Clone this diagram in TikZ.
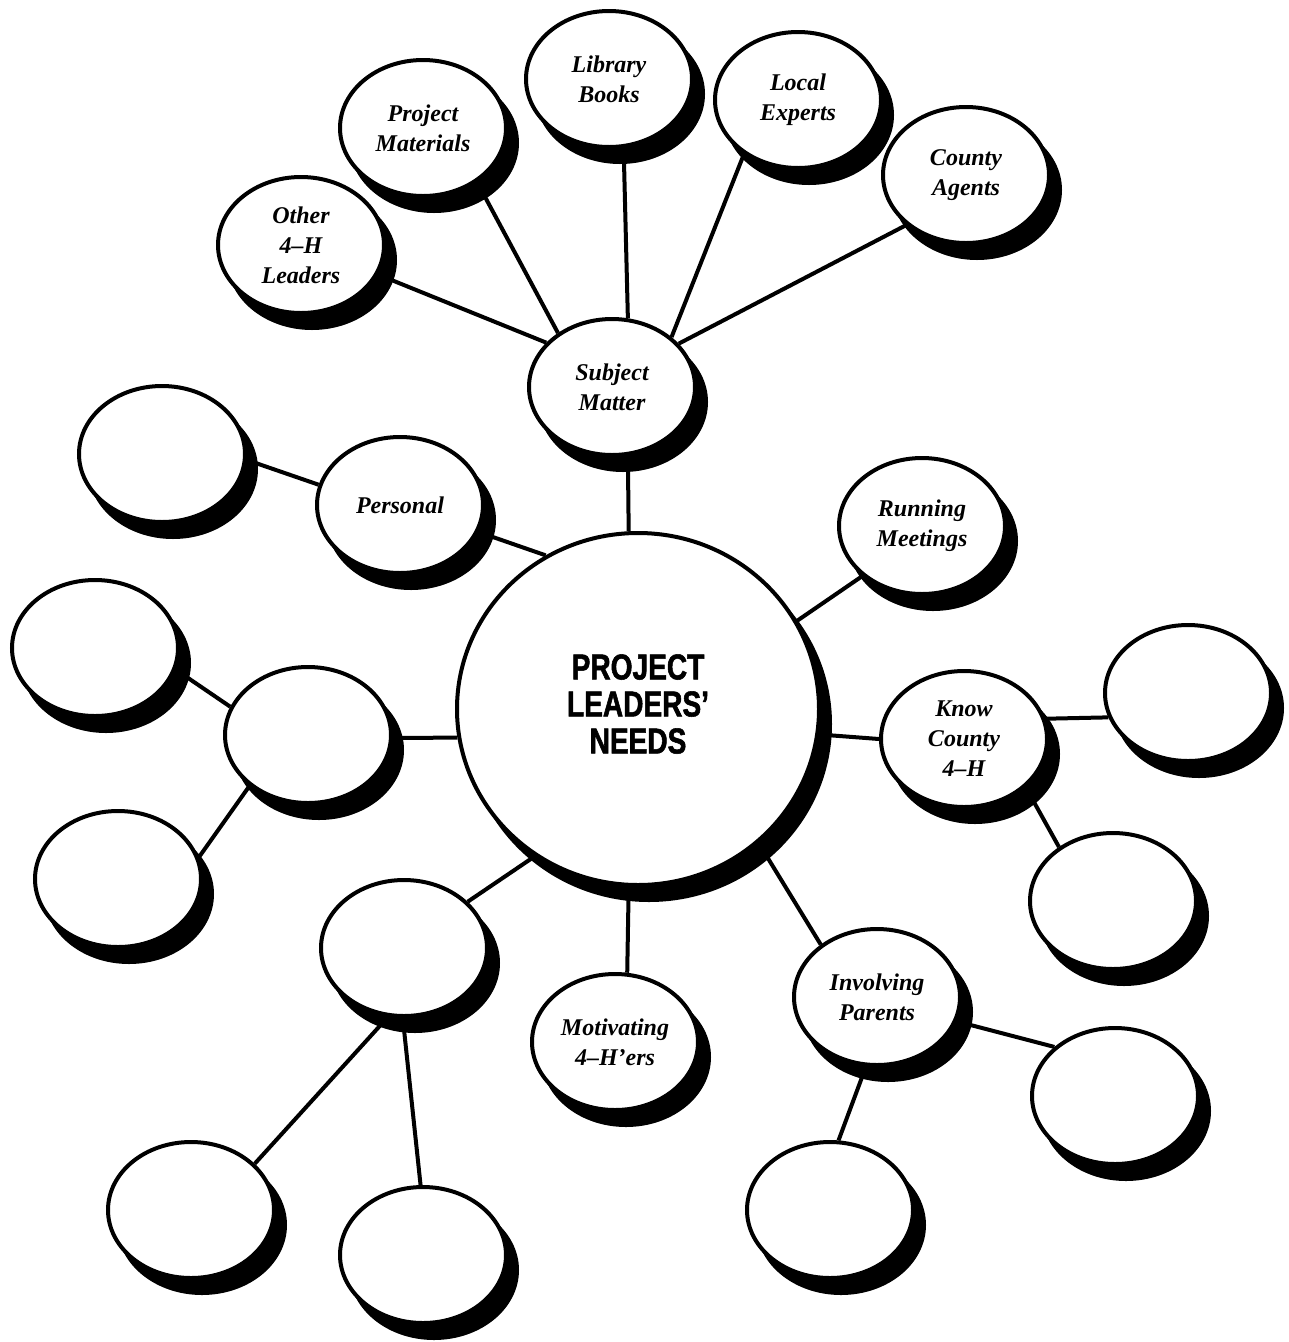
\documentclass[tikz,border=0pt]{standalone}
\usepackage{fontspec}
\newfontfamily\lblfont[Ligatures=TeX]{Liberation Serif}
\newfontfamily\titlefont[Ligatures=TeX,FakeStretch=0.78,FakeBold=1.5]{Liberation Sans Bold}
\usetikzlibrary{shapes.geometric,shadows,backgrounds}
\begin{document}
\begin{tikzpicture}[x=1pt,y=-1pt,
  bub/.style={ellipse, draw=black, line width=4pt, fill=white,
    minimum width=166pt, minimum height=136pt, inner sep=0pt, align=center,
    font=\lblfont\bfseries\itshape\fontsize{24}{30}\selectfont,
    drop shadow={shadow xshift=11pt, shadow yshift=-15pt, opacity=1, fill=black, draw=black, line width=4pt}},
  hub/.style={bub, minimum width=362pt, minimum height=352pt,
    font=\titlefont\fontsize{36}{37}\selectfont},
  link/.style={line width=4pt, draw=black}]
\useasboundingbox (0,0) rectangle (1289,1342);
% centre
\node[hub] (c) at (638,709) {\raisebox{8pt}{\begin{tabular}{@{}c@{}}PROJECT\\LEADERS’\\NEEDS\end{tabular}}};
% subject matter cluster
\node[bub] (sm) at (612,387) {Subject\\Matter};
\node[bub] (o4h) at (301,245) {Other\\4–H\\Leaders};
\node[bub] (pm) at (423,128) {Project\\Materials};
\node[bub] (lb) at (609,79) {Library\\Books};
\node[bub] (le) at (798,100) {Local\\Experts};
\node[bub] (ca) at (966,175) {County\\Agents};
% personal
\node[bub] (bu) at (162,454) {};
\node[bub] (ps) at (400,505) {Personal};
% left cluster
\node[bub] (ul) at (95,648) {};
\node[bub] (ml) at (308,735) {};
\node[bub] (ll) at (118,879) {};
% bottom-left cluster
\node[bub] (bt) at (404,948) {};
\node[bub] (b1) at (191,1210) {};
\node[bub] (b2) at (423,1255) {};
% motivating
\node[bub] (mo) at (615,1042) {Motivating\\4–H’ers};
% involving parents cluster
\node[bub] (ip) at (877,997) {Involving\\Parents};
\node[bub] (br) at (1115,1096) {};
\node[bub] (bb) at (830,1210) {};
% right side
\node[bub] (rm) at (922,526) {Running\\Meetings};
\node[bub] (kc) at (964,739) {Know\\County\\4–H};
\node[bub] (rb) at (1188,693) {};
\node[bub] (lr) at (1113,901) {};
\begin{pgfonlayer}{background}
\fill[white] (0,0) rectangle (1289,1342);
\draw[link] (sm.-77.5) -- (c.93.5);
\draw[link] (o4h.-21.5) -- (sm.146.7);
\draw[link] (pm.-45) -- (sm.135);
\draw[link] (lb.-78) -- (sm.77.7);
\draw[link] (le.-135) -- (sm.40);
\draw[link] (ca.-140.7) -- (sm.33);
\draw[link] (bu.-4) -- (ps.166.5);
\draw[link] (ps.-19.3) -- (c.121.6);
\draw[link] (rm.-140.6) -- (c.29.3);
\draw[link] (c.-8.9) -- (kc.180);
\draw[link] (kc.14) -- (rb.197);
\draw[link] (kc.-38) -- (lr.135.5);
\draw[link] (c.-48.1) -- (ip.137.5);
\draw[link] (ip.-17) -- (br.141.9);
\draw[link] (ip.-99) -- (bb.83);
\draw[link] (c.-93.2) -- (mo.80);
\draw[link] (c.-125.8) -- (bt.36);
\draw[link] (bt.-103) -- (b1.36);
\draw[link] (bt.-91) -- (b2.92);
\draw[link] (c.189) -- (ml.-2);
\draw[link] (ml.160) -- (ul.-15);
\draw[link] (ml.-139) -- (ll.15.4);
\end{pgfonlayer}
\end{tikzpicture}
\end{document}
